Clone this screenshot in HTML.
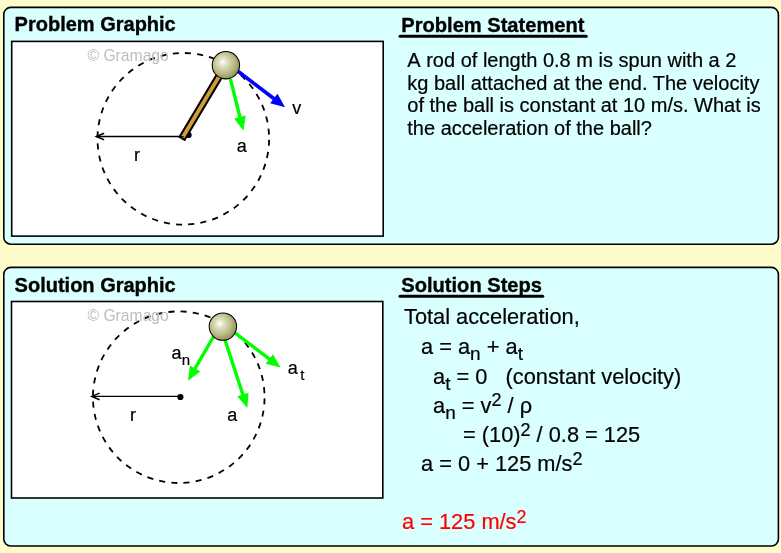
<!DOCTYPE html>
<html><head><meta charset="utf-8">
<style>
html,body{margin:0;padding:0;background:#FFFCCC;width:781px;height:553px;overflow:hidden}
svg{position:absolute;left:0;top:0;display:block;will-change:transform}
text{font-family:"Liberation Sans",sans-serif}
text[font-weight=bold]{stroke:#000;stroke-width:0.35px}
.rt text{stroke:currentColor;stroke-width:0.2px}
</style></head>
<body>
<svg width="781" height="553" viewBox="0 0 781 553">
<defs>
<radialGradient id="ball" cx="0.42" cy="0.42" r="0.62" fx="0.38" fy="0.38">
<stop offset="0" stop-color="#FFFFFF"/>
<stop offset="0.25" stop-color="#E0E0C2"/>
<stop offset="0.62" stop-color="#BDBD88"/>
<stop offset="1" stop-color="#8C8C52"/>
</radialGradient>
</defs>
<!-- panels -->
<rect x="3.8" y="7.4" width="774.6" height="236.8" rx="7" ry="7" fill="#DAFFFF" stroke="#000" stroke-width="1.6"/>
<rect x="3.8" y="267.4" width="774.6" height="278.6" rx="7" ry="7" fill="#DAFFFF" stroke="#000" stroke-width="1.6"/>
<!-- graphic boxes -->
<rect x="11.7" y="41.4" width="371.5" height="194.7" fill="#FFF" stroke="#000" stroke-width="1.6"/>
<rect x="11.5" y="301.5" width="371.3" height="196.5" fill="#FFF" stroke="#000" stroke-width="1.6"/>

<!-- headers -->
<text x="14.6" y="31.4" font-size="20" font-weight="bold">Problem Graphic</text>
<text x="401.3" y="31.6" font-size="20.1" font-weight="bold">Problem Statement</text>
<line x1="400" y1="36.3" x2="586.2" y2="36.3" stroke="#000" stroke-width="3" stroke-linecap="round"/>
<text x="14.6" y="291.9" font-size="20" font-weight="bold">Solution Graphic</text>
<text x="401.3" y="292.4" font-size="20.1" font-weight="bold">Solution Steps</text>
<line x1="400" y1="296.3" x2="542.7" y2="296.3" stroke="#000" stroke-width="3" stroke-linecap="round"/>

<!-- problem statement -->
<g font-size="20" class="rt">
<text x="407.3" y="66.9" style="font-kerning:none">A rod of length 0.8 m is spun with a 2</text>
<text x="407.3" y="89.6">kg ball attached at the end. The velocity</text>
<text x="407.3" y="111.6">of the ball is constant at 10 m/s. What is</text>
<text x="407.3" y="134.6">the acceleration of the ball?</text>
</g>

<!-- solution steps -->
<g font-size="21.8" class="rt">
<text x="404" y="324.4">Total acceleration,</text>
<text x="421" y="353.6">a = a<tspan dy="6.3" font-size="19">n</tspan><tspan dy="-6.3"> + a</tspan><tspan dy="6.3" font-size="19">t</tspan></text>
<text x="433" y="383.5">a<tspan dy="6.3" font-size="19">t</tspan><tspan dy="-6.3"> = 0&#160;&#160; (constant velocity)</tspan></text>
<text x="433" y="412.7">a<tspan dy="6" font-size="19">n</tspan><tspan dy="-6"> = v</tspan><tspan dy="-6.8" font-size="18">2</tspan><tspan dy="6.8"> / ρ</tspan></text>
<text x="463" y="441.9">= (10)<tspan dy="-6" font-size="18">2</tspan><tspan dy="6"> / 0.8 = 125</tspan></text>
<text x="421" y="471.3">a = 0 + 125 m/s<tspan dy="-6" font-size="18">2</tspan></text>
<text x="402" y="528.7" fill="#FF0000" style="stroke:#FF0000">a = 125 m/s<tspan dy="-6" font-size="18">2</tspan></text>
</g>

<!-- problem graphic -->
<circle cx="183.3" cy="138.8" r="85.8" fill="none" stroke="#000" stroke-width="1.8" stroke-dasharray="6.1 6.152" stroke-dashoffset="-1.0"/>
<text x="87.5" y="60.8" font-size="15.7" fill="#BDBDBD">© Gramago</text>
<line x1="182" y1="136.5" x2="96.5" y2="136.5" stroke="#000" stroke-width="1.3"/>
<polyline points="104.1,133.2 96.3,136.5 104.1,139.8" fill="none" stroke="#000" stroke-width="1.5"/>
<circle cx="188.8" cy="135" r="2.9" fill="#000"/>
<g transform="translate(182.2,138.2) rotate(-59.2)">
<rect x="-0.2" y="-2.95" width="83" height="5.9" fill="#CF9A3A" stroke="#000" stroke-width="2.1"/>
</g>
<line x1="179" y1="136.6" x2="183.8" y2="136.6" stroke="#000" stroke-width="0.9"/>
<text x="134" y="161" font-size="18" stroke="#000" stroke-width="0.2">r</text>
<line x1="230.70" y1="80.20" x2="240.43" y2="118.97" stroke="#00FF00" stroke-width="3.4" stroke-linecap="round"/><polygon points="243.40,130.80 234.12,118.49 245.76,115.57" fill="#00FF00"/>
<line x1="238.30" y1="71.50" x2="275.40" y2="99.80" stroke="#0000FF" stroke-width="3.7" stroke-linecap="round"/><polygon points="285.10,107.20 270.17,103.36 277.45,93.82" fill="#0000FF"/>
<circle cx="225.9" cy="65.2" r="13.7" fill="url(#ball)" stroke="#000" stroke-width="1.05"/>
<text x="292.3" y="113.5" font-size="18" stroke="#000" stroke-width="0.2">v</text>
<text x="236.8" y="151.5" font-size="18" stroke="#000" stroke-width="0.2">a</text>

<!-- solution graphic -->
<circle cx="178.75" cy="397.2" r="85.8" fill="none" stroke="#000" stroke-width="1.8" stroke-dasharray="6.1 6.152" stroke-dashoffset="-1.2"/>
<text x="87.5" y="320.8" font-size="15.7" fill="#BDBDBD">© Gramago</text>
<line x1="180.4" y1="396.4" x2="92" y2="396.4" stroke="#000" stroke-width="1.3"/>
<polyline points="99.6,393.1 91.8,396.4 99.6,399.7" fill="none" stroke="#000" stroke-width="1.5"/>
<circle cx="180.4" cy="397" r="3.1" fill="#000"/>
<text x="130" y="421" font-size="18" stroke="#000" stroke-width="0.2">r</text>
<line x1="213.30" y1="337.00" x2="194.11" y2="370.14" stroke="#00FF00" stroke-width="3.4" stroke-linecap="round"/><polygon points="188.00,380.70 189.92,365.40 200.31,371.42" fill="#00FF00"/>
<line x1="225.10" y1="340.20" x2="243.50" y2="396.41" stroke="#00FF00" stroke-width="3.4" stroke-linecap="round"/><polygon points="247.30,408.00 237.18,396.37 248.58,392.64" fill="#00FF00"/>
<line x1="235.90" y1="333.60" x2="270.88" y2="360.13" stroke="#00FF00" stroke-width="3.4" stroke-linecap="round"/><polygon points="280.60,367.50 265.66,363.70 272.91,354.14" fill="#00FF00"/>
<circle cx="222.9" cy="326.6" r="13.7" fill="url(#ball)" stroke="#000" stroke-width="1.05"/>
<text x="171.4" y="359" font-size="18" stroke="#000" stroke-width="0.2">a<tspan dy="6" dx="0.3" font-size="15">n</tspan></text>
<text x="287.7" y="373.8" font-size="18" stroke="#000" stroke-width="0.2">a<tspan dy="6.5" dx="2.5" font-size="15">t</tspan></text>
<text x="227.2" y="421" font-size="18" stroke="#000" stroke-width="0.2">a</text>
</svg>
</body></html>
